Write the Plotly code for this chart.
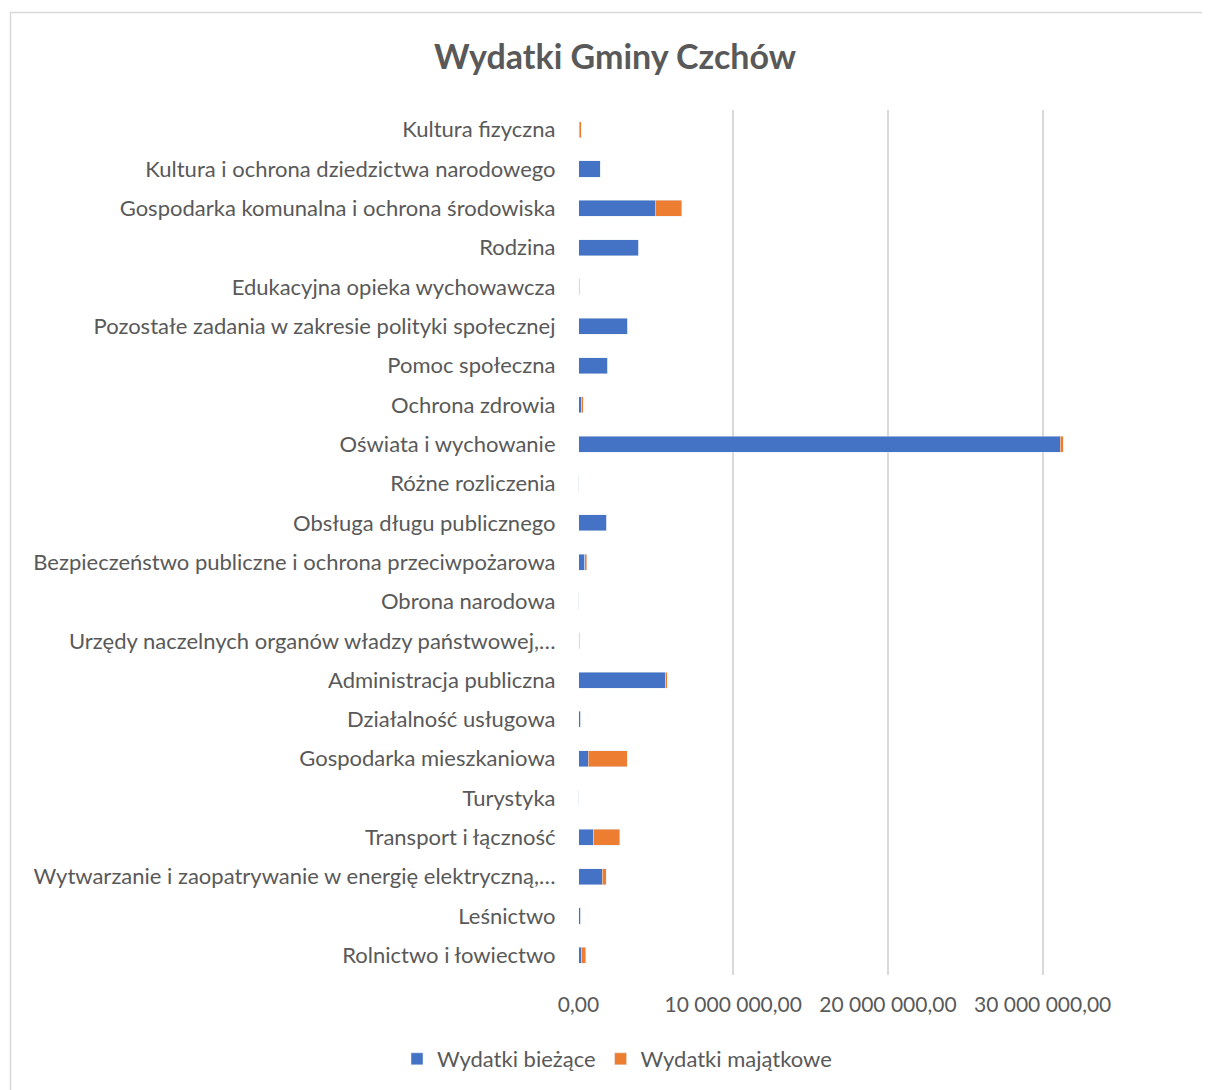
import plotly.graph_objects as go

W, H = 1210, 1090
# strona ma 8 px marginesu body, więc wszystko przesuwam o 8 px
OFF = 8

# kategorie od dołu do góry (kolejność jak w arkuszu)
kategorie = [
    "Rolnictwo i łowiectwo",
    "Leśnictwo",
    "Wytwarzanie i zaopatrywanie w energię elektryczną,…",
    "Transport i łączność",
    "Turystyka",
    "Gospodarka mieszkaniowa",
    "Działalność usługowa",
    "Administracja publiczna",
    "Urzędy naczelnych organów władzy państwowej,…",
    "Obrona narodowa",
    "Bezpieczeństwo publiczne i ochrona przeciwpożarowa",
    "Obsługa długu publicznego",
    "Różne rozliczenia",
    "Oświata i wychowanie",
    "Ochrona zdrowia",
    "Pomoc społeczna",
    "Pozostałe zadania w zakresie polityki społecznej",
    "Edukacyjna opieka wychowawcza",
    "Rodzina",
    "Gospodarka komunalna i ochrona środowiska",
    "Kultura i ochrona dziedzictwa narodowego",
    "Kultura fizyczna",
]

wydatki_biezace = [
    200000, 160000, 1540000, 1000000, 0, 640000, 160000, 5650000,
    70000, 2000, 400000, 1840000, 0, 31150000, 220000, 1880000,
    3180000, 80000, 3910000, 4960000, 1410000, 50000,
]

wydatki_majatkowe = [
    280000, 0, 260000, 1680000, 0, 2520000, 0, 70000,
    0, 0, 130000, 0, 0, 170000, 100000, 0,
    0, 0, 0, 1700000, 0, 120000,
]

szary = "#595959"
font_rodzina = "Lato, 'Open Sans', sans-serif"

fig = go.Figure()
fig.add_trace(go.Bar(y=kategorie, x=wydatki_biezace, orientation="h",
                     name="Wydatki bieżące", marker_color="#4472C4"))
fig.add_trace(go.Bar(y=kategorie, x=wydatki_majatkowe, orientation="h",
                     name="Wydatki majątkowe", marker_color="#ED7D31"))

x0, x1 = 578.5 - OFF, 1120 - OFF
y_top, y_bot = 110 - OFF, 975 - OFF

fig.update_layout(
    width=W, height=H,
    margin=dict(l=0, r=0, t=0, b=0),
    paper_bgcolor="white", plot_bgcolor="white",
    barmode="stack", bargap=0.59,
    separators=", ",
    font=dict(family=font_rodzina, color=szary, size=21),
    title=dict(text="<b>Wydatki Gminy Czchów</b>", x=(615 - OFF) / W, xanchor="center",
               y=1 - (57 - OFF) / H, yanchor="middle",
               font=dict(size=34, color=szary, family=font_rodzina)),
    xaxis=dict(domain=[x0 / W, x1 / W], range=[0, 35000000],
               tickvals=[0, 10000000, 20000000, 30000000], tickformat=",.2f",
               showgrid=True, gridcolor="#d9d9d9", gridwidth=1.5,
               zeroline=False, showline=False, ticks="", automargin=False,
               tickfont=dict(size=21, color=szary), ticklabelstandoff=15),
    yaxis=dict(domain=[1 - y_bot / H, 1 - y_top / H], showgrid=False,
               zeroline=False, showline=False, ticks="", automargin=False,
               ticklabelstandoff=22,
               tickfont=dict(size=22, color=szary)),
    legend=dict(orientation="h", x=(617 - OFF) / W, xanchor="center",
                y=1 - (1059 - OFF) / H, yanchor="middle", itemwidth=30,
                font=dict(size=22, color=szary), traceorder="normal"),
    showlegend=True,
    shapes=[dict(type="rect", xref="paper", yref="paper",
                 x0=(10.5 - OFF) / W, x1=1.02, y0=-0.02, y1=1 - (12.5 - OFF) / H,
                 line=dict(color="#d9d9d9", width=1.5), layer="below")],
)

fig.write_html("out.html")
